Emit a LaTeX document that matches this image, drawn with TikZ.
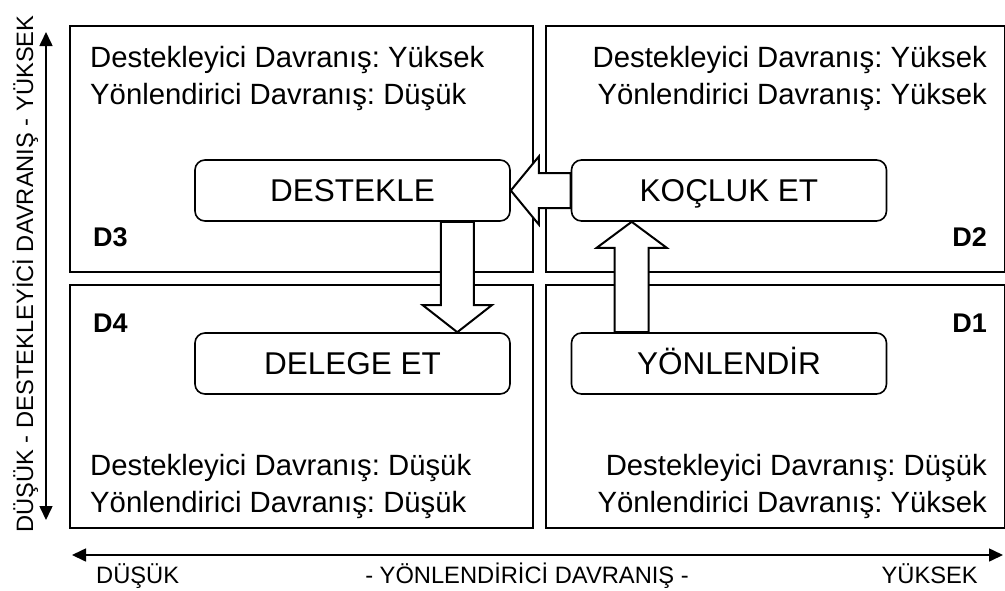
\documentclass[tikz,border=0pt]{standalone}
\usepackage{fontspec}
\setmainfont{Liberation Sans}
\usetikzlibrary{arrows.meta,calc}
\frenchspacing
\begin{document}
\begin{tikzpicture}[x=1pt,y=-1pt,
 quad/.style={draw,line width=2pt},
 txt/.style={inner sep=0pt,font=\fontsize{29.3}{35}\selectfont},
 dlab/.style={inner sep=0pt,font=\fontsize{27}{32}\selectfont\bfseries},
 actbox/.style={draw,fill=white,line width=1.6pt,rounded corners=10pt,minimum width=315pt,minimum height=61pt,inner sep=0pt,text height=22.6pt,text depth=0pt,font=\fontsize{31.5}{36}\selectfont},
 blk/.style={draw,fill=white,line width=2pt,line join=miter},
 axis/.style={line width=1.6pt,{Triangle[length=14pt,width=13pt]}-{Triangle[length=14pt,width=13pt]}},
 axlab/.style={inner sep=0pt,font=\fontsize{23.7}{28}\selectfont}]
\useasboundingbox (0,0) rectangle (1005,590);
% quadrants
\draw[quad] (70,26) rectangle (533,272);
\draw[quad] (546,26) rectangle (1004.5,272);
\draw[quad] (70,285) rectangle (533,528);
\draw[quad] (546,285) rectangle (1004.5,528);
% quadrant texts
\node[txt,anchor=base west] (tl1) at (90,67) {Destekleyici Davranış: Yüksek};
\node[txt,anchor=base west] (tl2) at (90,104) {Yönlendirici Davranış: Düşük};
\node[txt,anchor=base east] (tr1) at (987,67) {Destekleyici Davranış: Yüksek};
\node[txt,anchor=base east] (tr2) at (987,104) {Yönlendirici Davranış: Yüksek};
\node[txt,anchor=base west] (bl1) at (90,475) {Destekleyici Davranış: Düşük};
\node[txt,anchor=base west] (bl2) at (90,512) {Yönlendirici Davranış: Düşük};
\node[txt,anchor=base east] (br1) at (987,475) {Destekleyici Davranış: Düşük};
\node[txt,anchor=base east] (br2) at (987,512) {Yönlendirici Davranış: Yüksek};
% D labels
\node[dlab,anchor=base west] (d3) at (93,246) {D3};
\node[dlab,anchor=base west] (d4) at (93,332) {D4};
\node[dlab,anchor=base east] (d2) at (987,246) {D2};
\node[dlab,anchor=base east] (d1) at (987,332) {D1};
% action boxes
\node[actbox] (dest) at (352.5,190.5) {DESTEKLE};
\node[actbox] (koc) at (729,190.5) {KOÇLUK ET};
\node[actbox] (dele) at (352.5,363.5) {DELEGE ET};
\node[actbox] (yon) at (729,363.5) {YÖNLENDİR};
% block arrows
\draw[blk] (dest.east) -- ($(dest.east)+(28,-34)$) -- ($(dest.east)+(28,-17.5)$)
  -- ($(koc.west)+(0,-17.5)$) -- ($(koc.west)+(0,17.5)$) -- ($(dest.east)+(28,17.5)$)
  -- ($(dest.east)+(28,34)$) -- cycle;
\coordinate (da) at ($(dest.south east)+(-53.5,0)$);
\coordinate (db) at ($(dele.north east)+(-53.5,0)$);
\draw[blk] ($(da)+(-16.5,0)$) -- ($(db)+(-16.5,-27)$) -- ($(db)+(-34.5,-27)$) -- (db)
  -- ($(db)+(34.5,-27)$) -- ($(db)+(16.5,-27)$) -- ($(da)+(16.5,0)$) -- cycle;
\coordinate (ua) at ($(yon.north west)+(61,0)$);
\coordinate (ub) at ($(koc.south west)+(61,0)$);
\draw[blk] ($(ua)+(-17,0)$) -- ($(ub)+(-17,26)$) -- ($(ub)+(-35,26)$) -- (ub)
  -- ($(ub)+(35,26)$) -- ($(ub)+(17,26)$) -- ($(ua)+(17,0)$) -- cycle;
% axes
\coordinate (vt) at (46,32);
\coordinate (vb) at (46,520);
\draw[axis] (vb) -- (vt);
\coordinate (hl) at (72,555);
\coordinate (hr) at (1003,555);
\draw[axis] (hl) -- (hr);
\node[axlab,rotate=90,anchor=base] (vlab) at (33,274) {DÜŞÜK - DESTEKLEYİCİ DAVRANIŞ - YÜKSEK};
\node[axlab,anchor=base west] (hlow) at (96,583) {DÜŞÜK};
\node[axlab,anchor=base] (hmid) at (527,583) {- YÖNLENDİRİCİ DAVRANIŞ -};
\node[axlab,anchor=base east] (hhigh) at (978,583) {YÜKSEK};
\end{tikzpicture}
\end{document}
